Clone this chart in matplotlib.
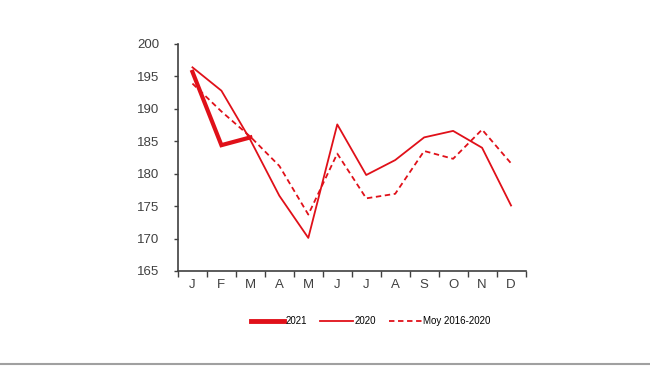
import numpy as np
import matplotlib
matplotlib.use("Agg")
import matplotlib.pyplot as plt
from matplotlib.lines import Line2D

plt.rcParams['font.family'] = ['Liberation Sans', 'DejaVu Sans']

meses = ['J', 'F', 'M', 'A', 'M', 'J', 'J', 'A', 'S', 'O', 'N', 'D']
v2021 = [195.7, 184.4, 185.6]
v2020 = [196.4, 192.8, 185.2, 176.6, 170.1, 187.6, 179.8, 182.1, 185.6, 186.6, 184.0, 175.1]
moy = [193.9, 189.6, 185.7, 181.2, 173.7, 183.1, 176.2, 176.9, 183.5, 182.3, 186.8, 181.6]

rojo = '#e01019'
gris = '#404040'

fig = plt.figure(figsize=(6.5, 3.66), dpi=100)
ax = fig.add_axes([0.2738, 0.2596, 0.5347, 0.6202])

x = np.arange(len(meses))
ax.plot(x[:len(v2021)], v2021, color=rojo, lw=3.0, solid_joinstyle='miter')
ax.plot(x, v2020, color=rojo, lw=1.3)
ax.plot(x, moy, color=rojo, lw=1.3, ls=(0, (3, 2)))

ax.set_xlim(-0.5, 11.5)
ax.set_ylim(165, 200)
ax.set_yticks(np.arange(165, 201, 5))
ax.set_xticks(np.arange(-0.5, 12, 1))
ax.set_xticklabels([])
ax.set_xticks(x, minor=True)
ax.set_xticklabels(meses, minor=True)
ax.tick_params(axis='x', which='major', length=4, color=gris, width=1)
ax.tick_params(axis='x', which='minor', length=0, pad=6, labelsize=9.5, labelcolor=gris)
ax.tick_params(axis='y', length=3, color=gris, width=1, labelsize=9.5, labelcolor=gris, pad=10.5)
for s in ['top', 'right']:
    ax.spines[s].set_visible(False)
for s in ['left', 'bottom']:
    ax.spines[s].set_color(gris)
    ax.spines[s].set_linewidth(1.2)

handles = [Line2D([], [], color=rojo, lw=3.5),
           Line2D([], [], color=rojo, lw=1.3),
           Line2D([], [], color=rojo, lw=1.3, ls=(0, (3, 2)))]
fig.legend(handles, ['2021', '2020', 'Moy 2016-2020'], loc='center left',
           bbox_to_anchor=(0.372, 0.123), ncol=3, frameon=False, fontsize=7,
           handlelength=3.4, handletextpad=0.15, columnspacing=1.35)

# separador gris al pie
fig.add_artist(Line2D([0, 1], [0.006, 0.006], color='#a0a0a0', lw=1.5,
                      transform=fig.transFigure))

fig.savefig('out.png', dpi=100)
